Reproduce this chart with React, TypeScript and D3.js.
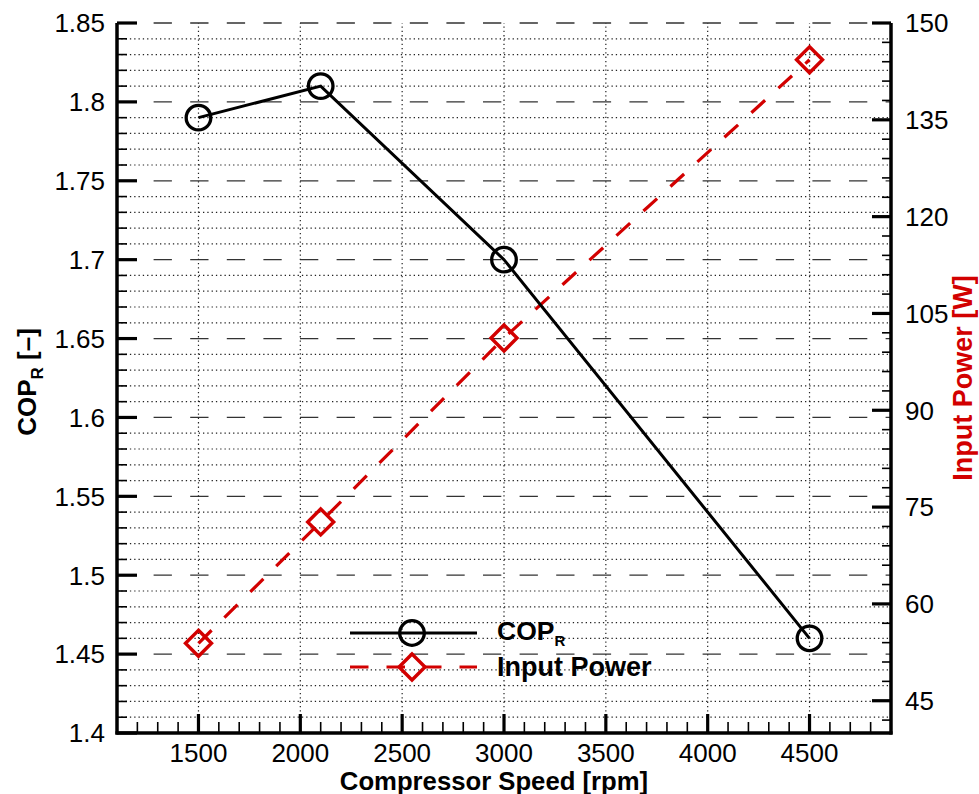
import React, { useRef, useEffect } from 'react';
import * as d3 from 'd3';

// data
const speeds = [1500, 2100, 3000, 4500];
const copR = [1.79, 1.81, 1.7, 1.46];
const inputPower = [53.9, 72.7, 101.2, 144.3];

const xTicks = [1500, 2000, 2500, 3000, 3500, 4000, 4500];
const copTicks = [1.4, 1.45, 1.5, 1.55, 1.6, 1.65, 1.7, 1.75, 1.8, 1.85];
const powerTicks = [45, 60, 75, 90, 105, 120, 135, 150];

const FONT = "'Liberation Sans', Arial, Helvetica, sans-serif";
const RED = '#d20000';

const App = () => {
  const svgRef = useRef<SVGSVGElement | null>(null);

  useEffect(() => {
    const width = 979;
    const height = 794;
    const left = 117, right = 891, top = 23, bottom = 733;

    const svg = d3.select(svgRef.current)
      .attr('width', width)
      .attr('height', height);
    svg.selectAll('*').remove();

    const x = d3.scaleLinear().domain([1100, 4900]).range([left, right]);
    const yL = d3.scaleLinear().domain([1.4, 1.85]).range([bottom, top]);
    const yR = d3.scaleLinear().domain([40, 150]).range([bottom, top]);

    svg.append('rect').attr('width', width).attr('height', height).attr('fill', '#fff');

    // gridlines: dotted every 0.01, dashed at labelled values, dotted verticals
    const grid = svg.append('g');
    const minors = d3.range(141, 185).filter(v => v % 5 !== 0).map(v => v / 100);
    grid.selectAll('.hminor').data(minors).enter().append('line')
      .attr('x1', left).attr('x2', right)
      .attr('y1', d => yL(d)).attr('y2', d => yL(d))
      .attr('stroke', '#222').attr('stroke-width', 1.2)
      .attr('stroke-dasharray', '1.3,3');
    grid.selectAll('.hmajor').data(copTicks.slice(1)).enter().append('line')
      .attr('x1', left).attr('x2', right)
      .attr('y1', d => yL(d)).attr('y2', d => yL(d))
      .attr('stroke', '#333').attr('stroke-width', 1.3)
      .attr('stroke-dasharray', '18.3,18.3');
    grid.selectAll('.vgrid').data(xTicks).enter().append('line')
      .attr('x1', d => x(d)).attr('x2', d => x(d))
      .attr('y1', bottom).attr('y2', top)
      .attr('stroke', '#222').attr('stroke-width', 1.2)
      .attr('stroke-dasharray', '1.3,3');

    // series
    const pts = speeds.map((s, i) => ({ s, c: copR[i], p: inputPower[i] }));
    const copLine = d3.line<any>().x(d => x(d.s)).y(d => yL(d.c));
    const powLine = d3.line<any>().x(d => x(d.s)).y(d => yR(d.p));

    svg.append('path').attr('d', powLine(pts))
      .attr('fill', 'none').attr('stroke', RED).attr('stroke-width', 3.2)
      .attr('stroke-dasharray', '18.5,18');
    svg.append('path').attr('d', copLine(pts))
      .attr('fill', 'none').attr('stroke', '#000').attr('stroke-width', 3);

    const diamond = (cx: number, cy: number, r: number) =>
      `M${cx},${cy - r}L${cx + r},${cy}L${cx},${cy + r}L${cx - r},${cy}Z`;

    svg.selectAll('.pmark').data(pts).enter().append('path')
      .attr('d', d => diamond(x(d.s), yR(d.p), 13))
      .attr('fill', 'none').attr('stroke', RED).attr('stroke-width', 3.4);
    svg.selectAll('.cmark').data(pts).enter().append('circle')
      .attr('cx', d => x(d.s)).attr('cy', d => yL(d.c)).attr('r', 12.3)
      .attr('fill', 'none').attr('stroke', '#000').attr('stroke-width', 3.3);

    // axes
    const ax = svg.append('g').attr('stroke', '#000');
    ax.append('line').attr('x1', left).attr('x2', left).attr('y1', top).attr('y2', bottom + 1.5).attr('stroke-width', 3.5);
    ax.append('line').attr('x1', right).attr('x2', right).attr('y1', top).attr('y2', bottom + 1.5).attr('stroke-width', 3.5);
    ax.append('line').attr('x1', left - 1.5).attr('x2', right + 1.5).attr('y1', bottom).attr('y2', bottom).attr('stroke-width', 3.5);

    // left ticks
    ax.selectAll('.lmin').data(minors).enter().append('line')
      .attr('x1', left).attr('x2', left + 10)
      .attr('y1', d => yL(d)).attr('y2', d => yL(d)).attr('stroke-width', 1.6);
    ax.selectAll('.lmaj').data(copTicks).enter().append('line')
      .attr('x1', left).attr('x2', left + 20)
      .attr('y1', d => yL(d)).attr('y2', d => yL(d)).attr('stroke-width', 3.2);

    // right ticks
    const rMinors = d3.range(42, 150, 3).filter(v => (v - 45) % 15 !== 0);
    ax.selectAll('.rmin').data(rMinors).enter().append('line')
      .attr('x1', right).attr('x2', right - 9)
      .attr('y1', d => yR(d)).attr('y2', d => yR(d)).attr('stroke-width', 1.6);
    ax.selectAll('.rmaj').data(powerTicks).enter().append('line')
      .attr('x1', right).attr('x2', right - 19)
      .attr('y1', d => yR(d)).attr('y2', d => yR(d)).attr('stroke-width', 3.2);

    // bottom ticks
    const xMinors = d3.range(1200, 4900, 100).filter(v => v % 500 !== 0);
    ax.selectAll('.bmin').data(xMinors).enter().append('line')
      .attr('x1', d => x(d)).attr('x2', d => x(d))
      .attr('y1', bottom).attr('y2', bottom - 11).attr('stroke-width', 1.6);
    ax.selectAll('.bmaj').data(xTicks).enter().append('line')
      .attr('x1', d => x(d)).attr('x2', d => x(d))
      .attr('y1', bottom).attr('y2', bottom - 19).attr('stroke-width', 3.2);

    // tick labels
    const lab = svg.append('g').style('font-family', FONT).style('font-size', '26px').attr('fill', '#000');
    lab.selectAll('.ll').data(copTicks).enter().append('text')
      .attr('x', left - 12).attr('y', d => yL(d)).attr('dy', '0.36em')
      .attr('text-anchor', 'end').text(d => String(d));
    lab.selectAll('.rl').data(powerTicks).enter().append('text')
      .attr('x', right + 14).attr('y', d => yR(d)).attr('dy', '0.36em')
      .attr('text-anchor', 'start').text(d => String(d));
    lab.selectAll('.bl').data(xTicks).enter().append('text')
      .attr('x', d => x(d)).attr('y', bottom + 29)
      .attr('text-anchor', 'middle').text(d => String(d));

    // axis titles
    const ttl = svg.append('g').style('font-family', FONT).style('font-weight', 'bold');
    ttl.append('text').attr('x', 494).attr('y', 790).attr('text-anchor', 'middle')
      .style('font-size', '25.7px')
      .text('Compressor Speed [rpm]');

    const lt = ttl.append('text').attr('transform', 'translate(36,382) rotate(-90)')
      .attr('text-anchor', 'middle').style('font-size', '26px');
    lt.append('tspan').text('COP');
    lt.append('tspan').attr('dy', 7).style('font-size', '17px').text('R');
    lt.append('tspan').attr('dy', -7).text(' [–]');

    ttl.append('text').attr('transform', 'translate(972,378) rotate(-90)').attr('text-anchor', 'middle')
      .style('font-size', '27px')
      .attr('fill', RED).text('Input Power [W]');

    // legend
    const lg = svg.append('g');
    const lx1 = 350, lx2 = 477, lmx = 412, ly1 = 633, ly2 = 667;
    lg.append('line').attr('x1', lx1).attr('x2', lx2).attr('y1', ly1).attr('y2', ly1)
      .attr('stroke', '#000').attr('stroke-width', 3);
    lg.append('circle').attr('cx', lmx).attr('cy', ly1).attr('r', 12.3)
      .attr('fill', 'none').attr('stroke', '#000').attr('stroke-width', 3.3);
    lg.append('line').attr('x1', lx1).attr('x2', lx2).attr('y1', ly2).attr('y2', ly2)
      .attr('stroke', RED).attr('stroke-width', 3.2).attr('stroke-dasharray', '18.5,18');
    lg.append('path').attr('d', diamond(lmx, ly2, 13))
      .attr('fill', 'none').attr('stroke', RED).attr('stroke-width', 3.4);

    const lt1 = lg.append('text').attr('x', 497).attr('y', 640)
      .style('font-family', FONT).style('font-size', '26.5px').style('font-weight', 'bold');
    lt1.append('tspan').text('COP');
    lt1.append('tspan').attr('dy', 6).style('font-size', '15px').text('R');
    lg.append('text').attr('x', 497).attr('y', 676)
      .style('font-family', FONT).style('font-size', '27px').style('font-weight', 'bold')
      .text('Input Power');
  }, []);

  return (
    <svg ref={svgRef} style={{ position: 'absolute', left: 0, top: 0 }}></svg>
  );
};

export default App;
